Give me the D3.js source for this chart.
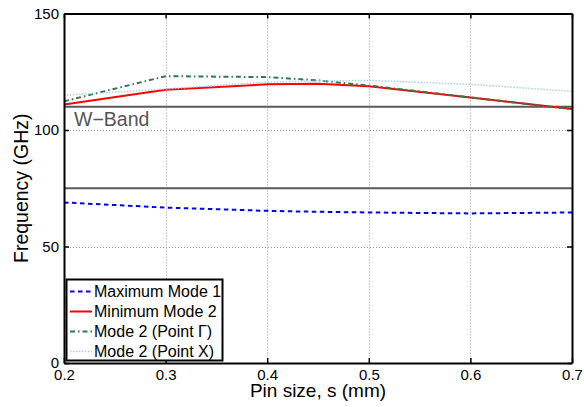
<!DOCTYPE html>
<html>
<head>
<meta charset="utf-8">
<script src="https://cdn.jsdelivr.net/npm/d3@7"></script>
<style>
  body { margin: 0; background: #fff; }
  svg { font-family: "Liberation Sans", Arial, sans-serif; }
</style>
</head>
<body>
<div id="chart"></div>
<script>
// pin sizes (mm)
const pinSize = [0.2, 0.3, 0.4, 0.45, 0.5, 0.6, 0.7];
const maxMode1 = [68.9, 66.7, 65.3, 64.9, 64.6, 64.2, 64.6];
const minMode2 = [110.9, 117.3, 119.6, 119.8, 118.8, 113.9, 109.0];
const mode2Gamma = [112.3, 123.1, 122.7, 121.3, 119.1, 114.0, 108.9];
const mode2X = [114.9, 117.6, 120.6, 121.0, 121.3, 119.6, 116.6];
const wBand = [75, 110];

const xTicks = [0.2, 0.3, 0.4, 0.5, 0.6, 0.7];
const yTicks = [0, 50, 100, 150];

const width = 584, height = 407;
const margin = { left: 64, right: 12, top: 13.5, bottom: 44 };

const svg = d3.select("#chart").append("svg")
  .attr("width", width)
  .attr("height", height);

const x = d3.scaleLinear().domain([0.2, 0.7]).range([margin.left, width - margin.right]);
const y = d3.scaleLinear().domain([0, 150]).range([height - margin.bottom, margin.top]);

svg.append("clipPath").attr("id", "clip")
  .append("rect")
  .attr("x", x(0.2)).attr("y", y(150))
  .attr("width", x(0.7) - x(0.2)).attr("height", y(0) - y(150));

// grid
const grid = svg.append("g").attr("stroke", "#999").attr("stroke-width", 1)
  .attr("stroke-dasharray", "1,2");
grid.selectAll(".gx").data(xTicks.slice(1, -1)).enter().append("line")
  .attr("x1", d => Math.round(x(d)) + 0.5).attr("x2", d => Math.round(x(d)) + 0.5)
  .attr("y1", y(150)).attr("y2", y(0));
grid.selectAll(".gy").data(yTicks.slice(1, -1)).enter().append("line")
  .attr("y1", d => Math.round(y(d)) + 0.5).attr("y2", d => Math.round(y(d)) + 0.5)
  .attr("x1", x(0.2)).attr("x2", x(0.7));

const plot = svg.append("g").attr("clip-path", "url(#clip)");

// W-band limits
plot.selectAll(".wband").data(wBand).enter().append("line")
  .attr("x1", x(0.2)).attr("x2", x(0.7))
  .attr("y1", d => y(d)).attr("y2", d => y(d))
  .attr("stroke", "#5a5a5a").attr("stroke-width", 2);

svg.append("text")
  .attr("x", 74).attr("y", y(110) + 19)
  .attr("font-size", 19.5).attr("fill", "#555")
  .text("W\u2212Band");

const series = [
  { name: "Maximum Mode 1", values: maxMode1, color: "#0000ff", dash: "4.5,3.5", w: 2 },
  { name: "Minimum Mode 2", values: minMode2, color: "#ff0000", dash: null, w: 2 },
  { name: "Mode 2 (Point \u0393)", values: mode2Gamma, color: "#2e7a52", dash: "5,3,1.5,3", w: 2 },
  { name: "Mode 2 (Point X)", values: mode2X, color: "#a8d2ea", dash: "1.5,1.5", w: 1.5 }
];

const line = d3.line().x((d, i) => x(pinSize[i])).y(d => y(d));

plot.selectAll(".series").data(series).enter().append("path")
  .attr("d", d => line(d.values))
  .attr("fill", "none")
  .attr("stroke", d => d.color)
  .attr("stroke-width", d => d.w)
  .attr("stroke-dasharray", d => d.dash);

// axes box
const xAxis = d3.axisBottom(x).tickValues(xTicks).tickFormat(d3.format("")).tickSizeInner(-5).tickSizeOuter(0).tickPadding(6);
const yAxis = d3.axisLeft(y).tickValues(yTicks).tickSizeInner(-5).tickSizeOuter(0).tickPadding(5);

const gx = svg.append("g").attr("transform", `translate(0,${y(0)})`).call(xAxis);
const gy = svg.append("g").attr("transform", `translate(${x(0.2)},0)`).call(yAxis);
const gxTop = svg.append("g").attr("transform", `translate(0,${y(150)})`)
  .call(d3.axisTop(x).tickValues(xTicks).tickSizeInner(-5).tickSizeOuter(0).tickFormat(""));
const gyRight = svg.append("g").attr("transform", `translate(${x(0.7)},0)`)
  .call(d3.axisRight(y).tickValues(yTicks).tickSizeInner(-5).tickSizeOuter(0).tickFormat(""));

[gx, gy, gxTop, gyRight].forEach(g => {
  g.select(".domain").attr("stroke", "#000").attr("stroke-width", 2);
  g.selectAll(".tick line").attr("stroke", "#000").attr("stroke-width", 1.5);
});
gx.selectAll("text").attr("font-size", 15).attr("fill", "#000")
  .attr("font-family", "Liberation Sans, Arial, sans-serif");
gy.selectAll("text").attr("font-size", 15).attr("fill", "#000")
  .attr("font-family", "Liberation Sans, Arial, sans-serif");

// axis titles
svg.append("text")
  .attr("x", (x(0.2) + x(0.7)) / 2).attr("y", 397)
  .attr("text-anchor", "middle").attr("font-size", 19)
  .text("Pin size, s (mm)");

svg.append("text")
  .attr("transform", `translate(28,${(y(0) + y(150)) / 2}) rotate(-90)`)
  .attr("text-anchor", "middle").attr("font-size", 19.5)
  .text("Frequency (GHz)");

// legend
const legend = svg.append("g");
legend.append("rect")
  .attr("x", 66.5).attr("y", 279.5).attr("width", 156).attr("height", 81)
  .attr("fill", "#fff").attr("stroke", "#000").attr("stroke-width", 2);

const item = legend.selectAll(".item").data(series).enter().append("g")
  .attr("transform", (d, i) => `translate(70,${291.5 + i * 20})`);
item.append("line")
  .attr("x1", 0).attr("x2", 22).attr("y1", 0).attr("y2", 0)
  .attr("stroke", d => d.color).attr("stroke-width", d => d.w)
  .attr("stroke-dasharray", d => d.dash);
item.append("text")
  .attr("x", 24).attr("y", 0).attr("dy", "0.35em")
  .attr("font-size", 16)
  .text(d => d.name);
</script>
</body>
</html>
